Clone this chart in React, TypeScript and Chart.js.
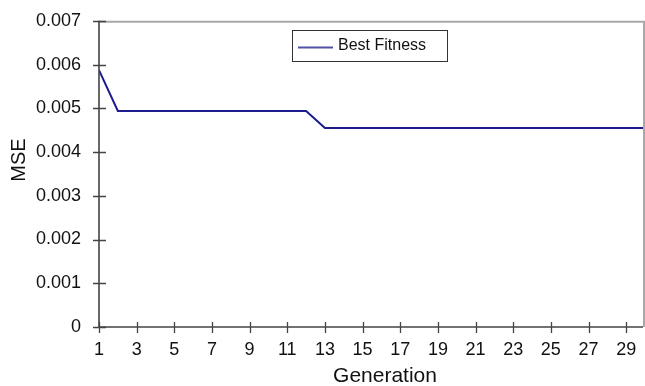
import React, { useEffect, useRef } from "react";
import { Chart, registerables } from "chart.js";

Chart.register(...registerables);

const generations: number[] = Array.from({ length: 30 }, (_, i) => i + 1);
const bestFitness: number[] = [
  0.00587, 0.00494, 0.00494, 0.00494, 0.00494, 0.00494, 0.00494, 0.00494, 0.00494, 0.00494,
  0.00494, 0.00494, 0.00455, 0.00455, 0.00455, 0.00455, 0.00455, 0.00455, 0.00455, 0.00455,
  0.00455, 0.00455, 0.00455, 0.00455, 0.00455, 0.00455, 0.00455, 0.00455, 0.00455, 0.00455,
];
const xTickValues: number[] = [1, 3, 5, 7, 9, 11, 13, 15, 17, 19, 21, 23, 25, 27, 29];
const yTickValues: number[] = [0, 0.001, 0.002, 0.003, 0.004, 0.005, 0.006, 0.007];
const seriesLabel = "Best Fitness";
const xTitle = "Generation";
const yTitle = "MSE";

const FONT = "'Liberation Sans', Arial, sans-serif";
const LINE_COLOR = "#1c1c8f";
const AXIS_COLOR = "#444444";

const framePlugin = {
  id: "frame",
  afterDraw(chart: any) {
    const { ctx, chartArea, scales } = chart;
    const { left, right, top, bottom } = chartArea;
    ctx.save();
    // top & right border
    ctx.strokeStyle = "#a8a8a8";
    ctx.lineWidth = 2;
    ctx.beginPath();
    ctx.moveTo(left, top + 1);
    ctx.lineTo(right - 1, top + 1);
    ctx.lineTo(right - 1, bottom);
    ctx.stroke();
    // axes
    ctx.strokeStyle = AXIS_COLOR;
    ctx.lineWidth = 1.6;
    ctx.beginPath();
    ctx.moveTo(left, top);
    ctx.lineTo(left, bottom);
    ctx.lineTo(right - 2, bottom);
    ctx.stroke();
    // ticks
    ctx.lineWidth = 1.3;
    ctx.beginPath();
    for (const v of yTickValues) {
      const y = Math.round(scales.y.getPixelForValue(v)) + 0.5;
      ctx.moveTo(left - 6, y);
      ctx.lineTo(left + 7, y);
    }
    for (const v of xTickValues) {
      const x = Math.round(scales.x.getPixelForValue(v)) + 0.5;
      ctx.moveTo(x, bottom - 5);
      ctx.lineTo(x, bottom + 6);
    }
    ctx.stroke();
    // axis titles
    ctx.fillStyle = "#111111";
    ctx.textAlign = "center";
    ctx.textBaseline = "alphabetic";
    ctx.font = `21px ${FONT}`;
    ctx.fillText(xTitle, 385, 382);
    ctx.save();
    ctx.translate(25, 160);
    ctx.rotate(-Math.PI / 2);
    ctx.font = `20px ${FONT}`;
    ctx.fillText(yTitle, 0, 0);
    ctx.restore();
    // legend
    const bx = 292, by = 30, bw = 155, bh = 31;
    ctx.fillStyle = "#ffffff";
    ctx.fillRect(bx, by, bw, bh);
    ctx.strokeStyle = "#333333";
    ctx.lineWidth = 1;
    ctx.strokeRect(bx + 0.5, by + 0.5, bw, bh);
    ctx.strokeStyle = "#5050a8";
    ctx.lineWidth = 2;
    ctx.beginPath();
    ctx.moveTo(298, 47.5);
    ctx.lineTo(333, 47.5);
    ctx.stroke();
    ctx.fillStyle = "#111111";
    ctx.font = `16px ${FONT}`;
    ctx.textBaseline = "middle";
    ctx.textAlign = "left";
    ctx.fillText(seriesLabel, 338, 46);
    ctx.restore();
  },
};

export default function App() {
  const ref = useRef<HTMLCanvasElement | null>(null);
  useEffect(() => {
    document.body.style.margin = "0";
    const canvas = ref.current;
    if (!canvas) return;
    const chart = new Chart(canvas, {
      type: "line",
      data: {
        datasets: [
          {
            label: seriesLabel,
            data: generations.map((g, i) => ({ x: g, y: bestFitness[i] })),
            borderColor: LINE_COLOR,
            borderWidth: 2,
            pointRadius: 0,
            tension: 0,
            fill: false,
          },
        ],
      },
      options: {
        responsive: false,
        animation: false,
        maintainAspectRatio: false,
        layout: { padding: { top: 20, right: 0, left: 0, bottom: 0 } },
        plugins: {
          legend: { display: false },
          tooltip: { enabled: false },
        },
        scales: {
          x: {
            type: "linear",
            min: 1,
            max: 30,
            grid: { display: false },
            border: { display: false },
            afterBuildTicks: (scale: any) => {
              scale.ticks = xTickValues.map((v) => ({ value: v }));
            },
            afterFit: (scale: any) => {
              scale.height = 59;
            },
            ticks: {
              autoSkip: false,
              maxRotation: 0,
              padding: 4,
              color: "#111111",
              font: { family: FONT, size: 18 },
              callback: (v: any) => String(v),
            },
            title: { display: false, text: xTitle },
          },
          y: {
            type: "linear",
            min: 0,
            max: 0.007,
            grid: { display: false },
            border: { display: false },
            afterBuildTicks: (scale: any) => {
              scale.ticks = yTickValues.map((v) => ({ value: v }));
            },
            afterFit: (scale: any) => {
              scale.width = 99;
            },
            ticks: {
              padding: 10,
              color: "#111111",
              font: { family: FONT, size: 18 },
              callback: (v: any) => (v === 0 ? "0" : Number(v).toFixed(3)),
            },
            title: { display: false, text: yTitle },
          },
        },
      },
      plugins: [framePlugin],
    });
    return () => chart.destroy();
  }, []);
  return (
    <div style={{ width: 645, height: 386, background: "#fff" }}>
      <canvas ref={ref} width={645} height={386} style={{ display: "block" }} />
    </div>
  );
}
